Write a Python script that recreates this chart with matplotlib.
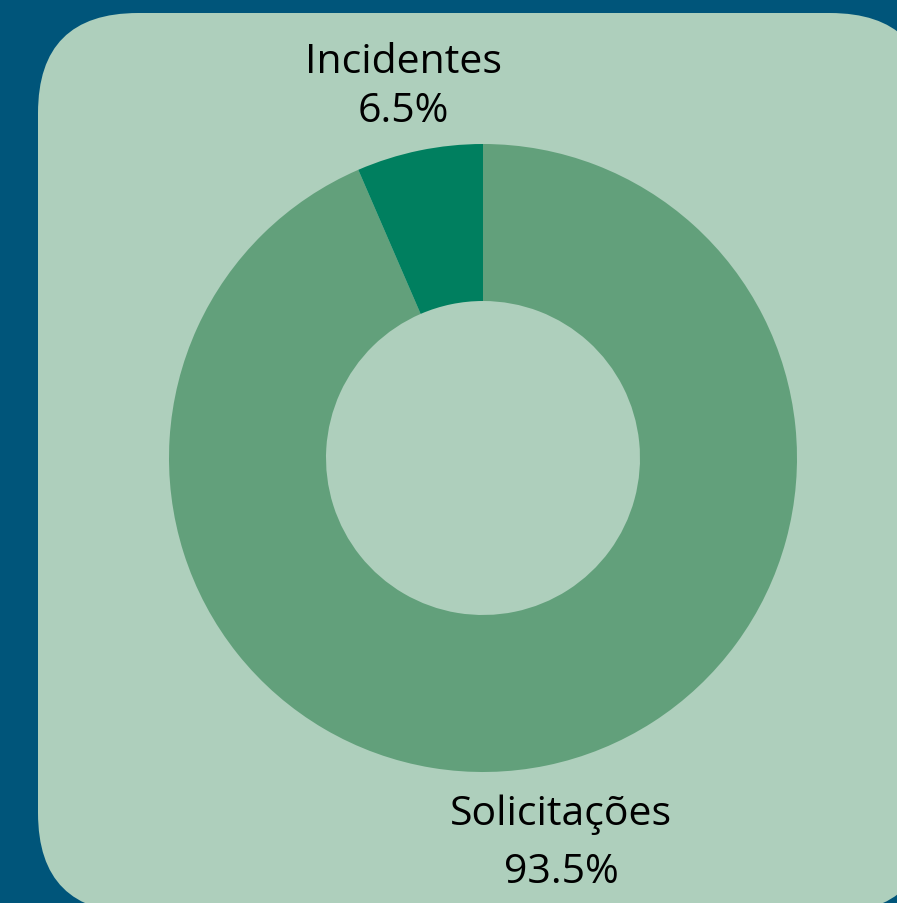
import matplotlib
matplotlib.use("Agg")
import matplotlib.pyplot as plt
from matplotlib.patches import FancyBboxPatch

# data
labels = ["Solicitações", "Incidentes"]
shares = [93.5, 6.5]
colors = ["#62a07b", "#007f5f"]

W, H = 897, 904
fig = plt.figure(figsize=(W / 100, H / 100), dpi=100)
fig.patch.set_facecolor("#00557a")
ax = fig.add_axes([0, 0, 1, 1])
ax.set_xlim(0, W)
ax.set_ylim(0, H)
ax.set_aspect("equal")
ax.axis("off")

# rounded light panel (runs off the right and bottom edges)
r = 100
panel = FancyBboxPatch((38 + r, -10 + r), 930 - 38 - 2 * r, (H - 14) + 10 - 2 * r,
                       boxstyle=f"round,pad={r}", facecolor="#aecfbc",
                       edgecolor="none", zorder=0)
ax.add_patch(panel)

# donut
cx, cy = 483, H - 459
ax.pie(shares, radius=314, center=(cx, cy), startangle=90, counterclock=False,
       colors=colors, wedgeprops=dict(width=157, edgecolor="none"))
ax.set_xlim(0, W)
ax.set_ylim(0, H)

font = "Open Sans"
fs = 29.5
ax.text(403, H - 73, labels[1], ha="center", va="baseline", fontsize=fs,
        family=font, color="black")
ax.text(403, H - 122, f"{shares[1]}%", ha="center", va="baseline", fontsize=fs,
        family=font, color="black")
ax.text(561, H - 825, labels[0], ha="center", va="baseline", fontsize=fs,
        family=font, color="black")
ax.text(561, H - 883, f"{shares[0]}%", ha="center", va="baseline", fontsize=fs,
        family=font, color="black")

fig.savefig("out.png", dpi=100, facecolor=fig.get_facecolor())
